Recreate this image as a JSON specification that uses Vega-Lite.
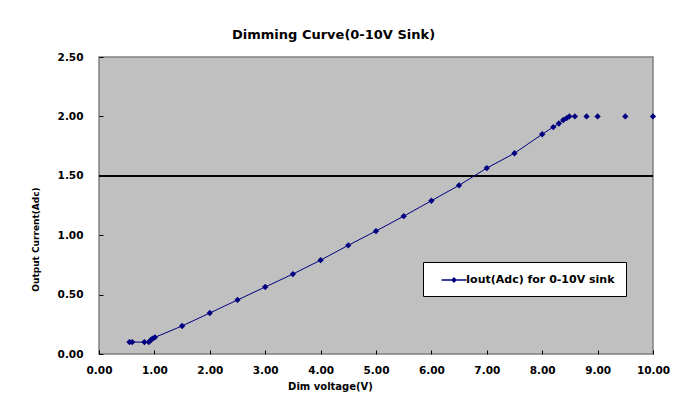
{
  "$schema": "https://vega.github.io/schema/vega-lite/v6.json",
  "autosize": "none",
  "width": 554,
  "height": 297,
  "padding": {"left": 99, "top": 57, "right": 40, "bottom": 60},
  "background": "white",
  "title": {
    "text": "Dimming Curve(0-10V Sink)",
    "anchor": "start",
    "frame": "group",
    "dx": 133,
    "offset": 10,
    "font": "DejaVu Sans",
    "fontSize": 13,
    "fontWeight": "bold",
    "color": "black"
  },
  "config": {
    "view": {"fill": "#C0C0C0", "stroke": "#808080", "strokeWidth": 1.5},
    "axis": {
      "labelFont": "DejaVu Sans",
      "labelFontSize": 10.5,
      "labelFontWeight": "bold",
      "labelColor": "black",
      "labelFlush": false,
      "titleFont": "DejaVu Sans",
      "titleFontSize": 10,
      "titleFontWeight": "bold",
      "titleColor": "black",
      "grid": false,
      "domain": false,
      "ticks": true,
      "tickSize": -4,
      "tickColor": "black",
      "tickWidth": 1
    }
  },
  "data": {
    "values": [
      {"v": 0.55, "i": 0.10, "seg": "a", "s": "Iout(Adc) for 0-10V sink"},
      {"v": 0.60, "i": 0.10, "seg": "a", "s": "Iout(Adc) for 0-10V sink"},
      {"v": 0.82, "i": 0.10, "seg": "a", "s": "Iout(Adc) for 0-10V sink"},
      {"v": 0.90, "i": 0.10, "seg": "a", "s": "Iout(Adc) for 0-10V sink"},
      {"v": 0.94, "i": 0.12, "seg": "a", "s": "Iout(Adc) for 0-10V sink"},
      {"v": 0.97, "i": 0.13, "seg": "a", "s": "Iout(Adc) for 0-10V sink"},
      {"v": 1.01, "i": 0.14, "seg": "a", "s": "Iout(Adc) for 0-10V sink"},
      {"v": 1.50, "i": 0.236, "seg": "a", "s": "Iout(Adc) for 0-10V sink"},
      {"v": 2.00, "i": 0.345, "seg": "a", "s": "Iout(Adc) for 0-10V sink"},
      {"v": 2.50, "i": 0.455, "seg": "a", "s": "Iout(Adc) for 0-10V sink"},
      {"v": 3.00, "i": 0.564, "seg": "a", "s": "Iout(Adc) for 0-10V sink"},
      {"v": 3.50, "i": 0.673, "seg": "a", "s": "Iout(Adc) for 0-10V sink"},
      {"v": 4.00, "i": 0.79, "seg": "a", "s": "Iout(Adc) for 0-10V sink"},
      {"v": 4.50, "i": 0.915, "seg": "a", "s": "Iout(Adc) for 0-10V sink"},
      {"v": 5.00, "i": 1.035, "seg": "a", "s": "Iout(Adc) for 0-10V sink"},
      {"v": 5.50, "i": 1.16, "seg": "a", "s": "Iout(Adc) for 0-10V sink"},
      {"v": 6.00, "i": 1.29, "seg": "a", "s": "Iout(Adc) for 0-10V sink"},
      {"v": 6.50, "i": 1.42, "seg": "a", "s": "Iout(Adc) for 0-10V sink"},
      {"v": 7.00, "i": 1.565, "seg": "a", "s": "Iout(Adc) for 0-10V sink"},
      {"v": 7.50, "i": 1.69, "seg": "a", "s": "Iout(Adc) for 0-10V sink"},
      {"v": 8.00, "i": 1.85, "seg": "a", "s": "Iout(Adc) for 0-10V sink"},
      {"v": 8.20, "i": 1.91, "seg": "a", "s": "Iout(Adc) for 0-10V sink"},
      {"v": 8.30, "i": 1.94, "seg": "a", "s": "Iout(Adc) for 0-10V sink"},
      {"v": 8.38, "i": 1.97, "seg": "a", "s": "Iout(Adc) for 0-10V sink"},
      {"v": 8.44, "i": 1.985, "seg": "a", "s": "Iout(Adc) for 0-10V sink"},
      {"v": 8.49, "i": 2.00, "seg": "a", "s": "Iout(Adc) for 0-10V sink"},
      {"v": 8.59, "i": 2.00, "seg": "a", "s": "Iout(Adc) for 0-10V sink"},
      {"v": 8.80, "i": 2.00, "seg": "b1", "s": "Iout(Adc) for 0-10V sink"},
      {"v": 9.00, "i": 2.00, "seg": "b2", "s": "Iout(Adc) for 0-10V sink"},
      {"v": 9.50, "i": 2.00, "seg": "b3", "s": "Iout(Adc) for 0-10V sink"},
      {"v": 10.00, "i": 2.00, "seg": "b4", "s": "Iout(Adc) for 0-10V sink"}
    ]
  },
  "layer": [
    {
      "mark": {"type": "rule", "color": "black", "strokeWidth": 1},
      "encoding": {"y": {"datum": 1.5, "type": "quantitative"}}
    },
    {
      "mark": {
        "type": "line",
        "strokeWidth": 1,
        "point": {"shape": "diamond", "filled": true, "size": 40, "opacity": 1}
      },
      "encoding": {
        "x": {
          "field": "v",
          "type": "quantitative",
          "scale": {"domain": [0, 10], "nice": false, "zero": false},
          "axis": {
            "title": "Dim voltage(V)",
            "values": [0, 1, 2, 3, 4, 5, 6, 7, 8, 9, 10],
            "format": ".2f",
            "labelPadding": 15,
            "titleX": 231,
            "titleY": 32,
            "titleBaseline": "middle",
            "titleAlign": "center"
          }
        },
        "y": {
          "field": "i",
          "type": "quantitative",
          "scale": {"domain": [0, 2.5], "nice": false},
          "axis": {
            "title": "Output Current(Adc)",
            "values": [0, 0.5, 1, 1.5, 2, 2.5],
            "format": ".2f",
            "labelPadding": 20,
            "titleFontSize": 9,
            "titleX": -64,
            "titleY": 182,
            "titleBaseline": "middle",
            "titleAlign": "center",
            "titleAngle": -90
          }
        },
        "detail": {"field": "seg"},
        "color": {
          "field": "s",
          "type": "nominal",
          "scale": {"range": ["#000080"]},
          "legend": {
            "title": null,
            "orient": "none",
            "legendX": 324,
            "legendY": 205,
            "direction": "vertical",
            "fillColor": "white",
            "strokeColor": "black",
            "padding": 11,
            "labelFont": "DejaVu Sans",
            "labelFontSize": 11,
            "labelFontWeight": "bold",
            "labelColor": "black",
            "labelOffset": 5,
            "symbolOffset": 13,
            "symbolSize": 156,
            "symbolStrokeWidth": 1.5,
            "symbolType": "M-2,0H2M-0.3,0L0,-0.3L0.3,0L0,0.3Z",
            "encode": {
              "symbols": {"update": {"fill": {"value": "#000080"}, "stroke": {"value": "#000080"}, "shape": {"value": "M-2,0H2M-0.3,0L0,-0.3L0.3,0L0,0.3Z"}}},
              "legend": {"update": {"strokeWidth": {"value": 1}}}
            }
          }
        }
      }
    }
  ]
}
